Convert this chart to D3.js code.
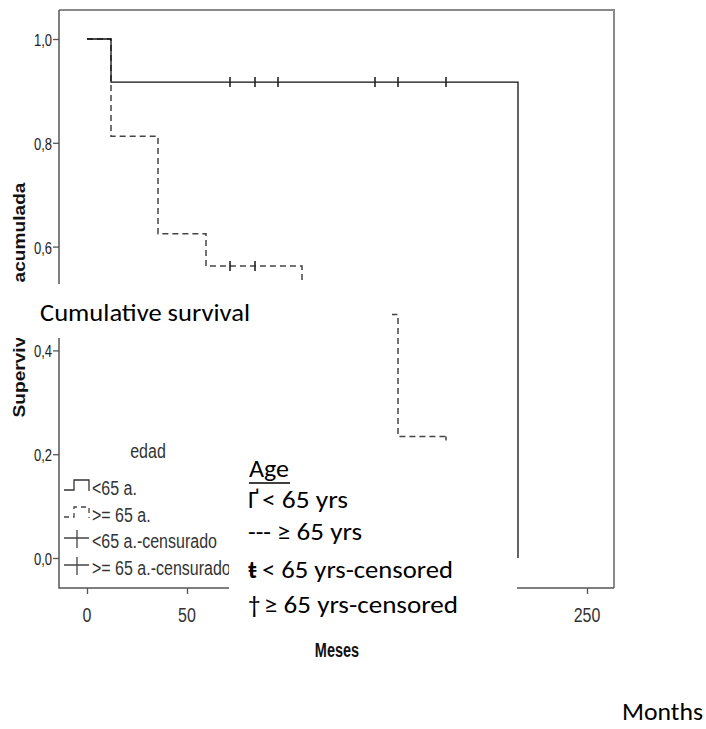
<!DOCTYPE html>
<html>
<head>
<meta charset="utf-8">
<script src="https://cdn.jsdelivr.net/npm/d3@7"></script>
<style>
  html, body { margin: 0; padding: 0; background: #fff; }
  svg { display: block; }
</style>
</head>
<body>
<svg id="chart" width="706" height="729"></svg>
<script>
// ---------------- DATA ----------------
const xTicks = [0, 50, 100, 150, 200, 250];
// labels 100-200 are hidden in the source image (covered by the English legend box)
const xTickLabels = ["0", "50", "", "", "", "250"];
const yTicks = [0, 0.2, 0.4, 0.6, 0.8, 1.0];
const yTickLabels = ["0,0", "0,2", "0,4", "0,6", "0,8", "1,0"];

// < 65 a. (solid)
const under65Months = [0, 12, 215.5];
const under65Surv = [1, 0.917, 0];
const under65Censored = [71.5, 84, 95.5, 144, 155.5, 179.5];
const under65CensorSurv = 0.917;

// >= 65 a. (dashed)
const over65Months = [0, 12, 35.5, 59.5, 107.5, 155.5, 179.5];
const over65Surv = [1, 0.8125, 0.625, 0.5625, 0.469, 0.234, 0.234];
const over65Censored = [71.5, 84];
const over65CensorSurv = 0.5625;

const spssLegendTitle = "edad";
const spssLegendLabels = ["<65 a.", ">= 65 a.", "<65 a.-censurado", ">= 65 a.-censurado"];
const yAxisTitle = "Supervivencia acumulada";
const xAxisTitle = "Meses";

const overlayTitle = "Cumulative survival";
const overlayLegendTitle = "Age";
const overlayLegendSymbols = ["Ґ", "---", "ŧ", "†"];
const overlayLegendLabels = ["< 65 yrs", "≥ 65 yrs", "< 65 yrs-censored", "≥ 65 yrs-censored"];
const overlayXTitle = "Months";

// ---------------- LAYOUT ----------------
const svg = d3.select("#chart");
const plot = {left: 59, right: 614, top: 10, bottom: 588};
const x = d3.scaleLinear().domain([0, 250]).range([87, 587]);
const y = d3.scaleLinear().domain([0, 1]).range([558, 39]);
const spssFont = "'Liberation Sans', Arial, sans-serif";
const calFont = "Carlito, Calibri, Lato, 'Open Sans', sans-serif";

// frame: top & right (light gray)
svg.append("path")
  .attr("d", `M${plot.left},${plot.top}H${plot.right}V${plot.bottom}`)
  .attr("fill", "none").attr("stroke", "#8a8a8a").attr("stroke-width", 2);

// axes
const xAxis = d3.axisBottom(x).tickValues(xTicks).tickSize(6).tickFormat("");
const gx = svg.append("g").attr("transform", `translate(0,${plot.bottom})`).call(xAxis);
gx.select(".domain").remove();
gx.selectAll(".tick line").attr("stroke", "#555").attr("stroke-width", 1.3);

const yAxis = d3.axisLeft(y).tickValues(yTicks).tickSize(6).tickFormat("");
const gy = svg.append("g").attr("transform", `translate(${plot.left},0)`).call(yAxis);
gy.select(".domain").remove();
gy.selectAll(".tick line").attr("stroke", "#555").attr("stroke-width", 1.3);

svg.append("path")
  .attr("d", `M${plot.left},${plot.top}V${plot.bottom}H${plot.right}`)
  .attr("fill", "none").attr("stroke", "#555").attr("stroke-width", 1.5);

// stretched SPSS text helper
function sText(tx, ty, str, size, sy, anchor, weight, fill) {
  return svg.append("text")
    .attr("transform", `translate(${tx},${ty}) scale(1,${sy})`)
    .attr("font-family", spssFont).attr("font-size", size)
    .attr("font-weight", weight || "normal")
    .attr("text-anchor", anchor || "start")
    .attr("fill", fill || "#333").text(str);
}

// tick labels
xTicks.forEach((t, i) => { if (xTickLabels[i]) sText(x(t), 622, xTickLabels[i], 16, 1.3, "middle"); });
yTicks.forEach((t, i) => sText(52, y(t) + 7, yTickLabels[i], 13, 1.3, "end", "normal", "#222"));

// axis titles
sText(337, 657, xAxisTitle, 14.5, 1.35, "middle", "bold", "#111");
svg.append("text")
  .attr("transform", `translate(25,300) rotate(-90)`)
  .attr("font-family", spssFont).attr("font-size", 16).attr("font-weight", "bold")
  .attr("text-anchor", "middle").attr("fill", "#111")
  .attr("textLength", 235).attr("lengthAdjust", "spacingAndGlyphs")
  .text(yAxisTitle);

// curves
const line = d3.line().x(d => x(d[0])).y(d => y(d[1])).curve(d3.curveStepAfter);
const over65 = over65Months.map((m, i) => [m, over65Surv[i]]);
const under65 = under65Months.map((m, i) => [m, under65Surv[i]]);

svg.append("path").attr("d", line(over65))
  .attr("fill", "none").attr("stroke", "#444").attr("stroke-width", 1.5)
  .attr("stroke-dasharray", "6,4");
svg.append("path").attr("d", line(under65))
  .attr("fill", "none").attr("stroke", "#111").attr("stroke-width", 1.3);

// censor marks
svg.selectAll(".cu").data(under65Censored).enter().append("line")
  .attr("x1", d => x(d)).attr("x2", d => x(d))
  .attr("y1", y(under65CensorSurv) - 5).attr("y2", y(under65CensorSurv) + 5)
  .attr("stroke", "#222").attr("stroke-width", 1.6);
svg.selectAll(".co").data(over65Censored).enter().append("line")
  .attr("x1", d => x(d)).attr("x2", d => x(d))
  .attr("y1", y(over65CensorSurv) - 5).attr("y2", y(over65CensorSurv) + 5)
  .attr("stroke", "#222").attr("stroke-width", 1.6);
// small end tick of the dashed curve
const lastM = over65Months[over65Months.length - 1];
const lastS = over65Surv[over65Surv.length - 1];
svg.append("line").attr("x1", x(lastM)).attr("x2", x(lastM))
  .attr("y1", y(lastS)).attr("y2", y(lastS) + 4)
  .attr("stroke", "#444").attr("stroke-width", 1.5);

// SPSS legend
sText(148, 458, spssLegendTitle, 16, 1.3, "middle");
const legY = [495, 522, 548, 575];
spssLegendLabels.forEach((l, i) => sText(92, legY[i], l, 16, 1.3));
svg.append("path").attr("d", `M64,490H74V480H89V491`)
  .attr("fill", "none").attr("stroke", "#333").attr("stroke-width", 1.3);
svg.append("path").attr("d", `M64,517H74V507H89V518`)
  .attr("fill", "none").attr("stroke", "#444").attr("stroke-width", 1.3)
  .attr("stroke-dasharray", "5,4");
[538, 565].forEach(cy => {
  svg.append("path").attr("d", `M64,${cy}H89M77,${cy - 8}V${cy + 10}`)
    .attr("fill", "none").attr("stroke", "#444").attr("stroke-width", 1.3);
});

// ---------------- OVERLAYS ----------------
svg.append("rect").attr("x", 0).attr("y", 284).attr("width", 392).attr("height", 54).attr("fill", "#fff");
svg.append("rect").attr("x", 229).attr("y", 445).attr("width", 288).attr("height", 185).attr("fill", "#fff");

function cText(tx, ty, str, w, size) {
  const t = svg.append("text").attr("x", tx).attr("y", ty)
    .attr("font-family", calFont).attr("font-size", size || 25)
    .attr("fill", "#000").text(str);
  if (w) t.attr("textLength", w).attr("lengthAdjust", "spacingAndGlyphs");
  return t;
}
cText(40, 321, overlayTitle, 210);
cText(249, 477, overlayLegendTitle, 40);
svg.append("line").attr("x1", 249).attr("x2", 290).attr("y1", 483).attr("y2", 483)
  .attr("stroke", "#000").attr("stroke-width", 1.5);
const ovY = [508, 540, 578, 613];
const symW = [null, 23, null, null];
const labX = [262, 277, 262, 264];
const labW = [86, 85, 191, 194];
overlayLegendSymbols.forEach((s, i) => {
  const t = cText(248, ovY[i], s, symW[i], 25);
  if (i === 2) t.attr("font-weight", "bold");
  cText(labX[i], ovY[i], overlayLegendLabels[i], labW[i]);
});
cText(622, 720, overlayXTitle, 81);
</script>
</body>
</html>
